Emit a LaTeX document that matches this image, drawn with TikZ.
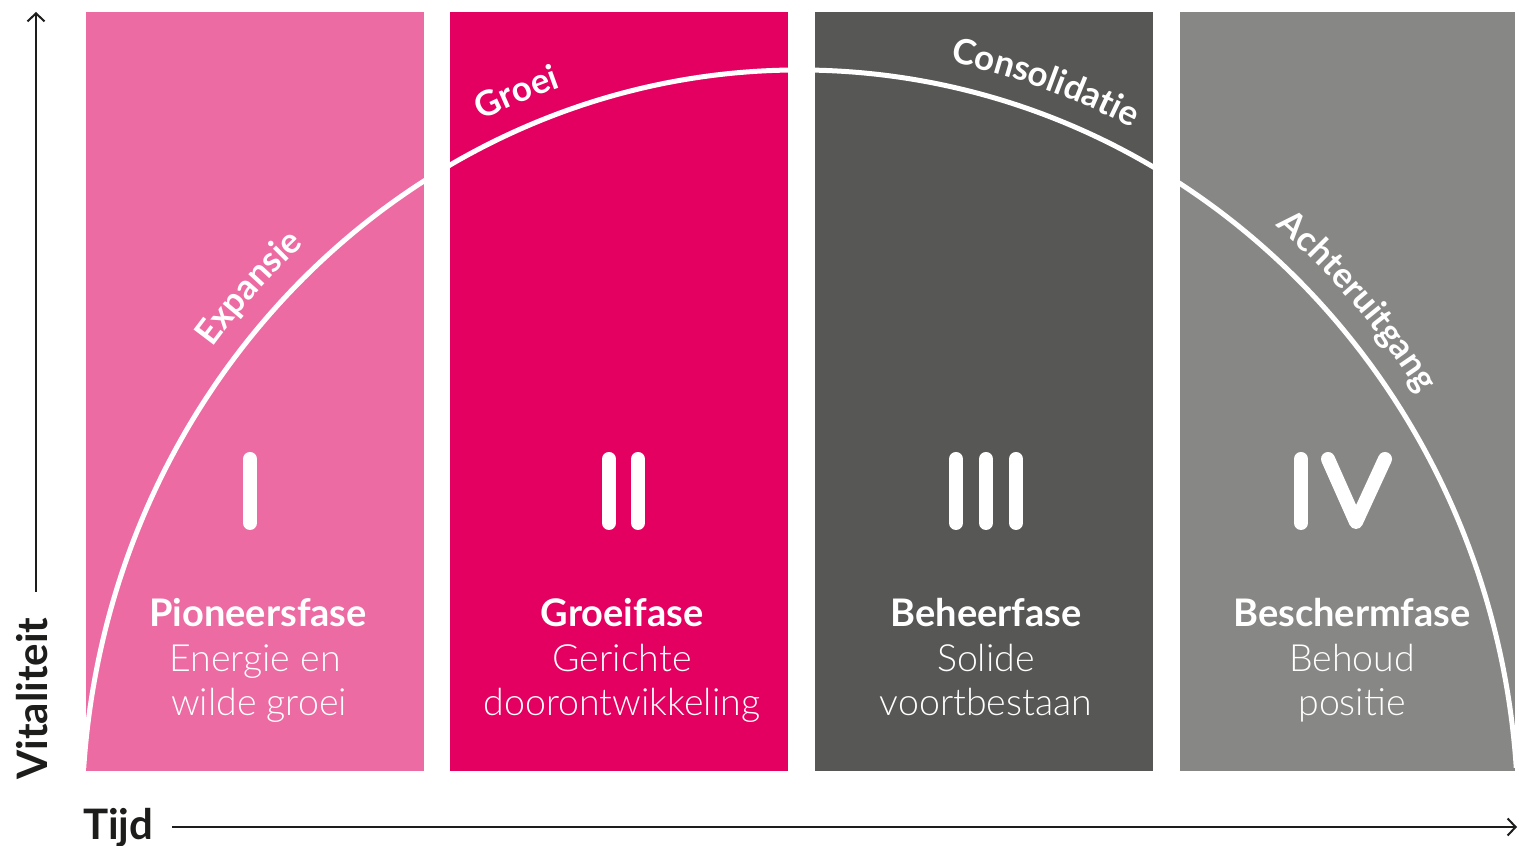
\documentclass[tikz,border=0pt]{standalone}
\usepackage{fontspec}
\setmainfont{Lato}
\newfontfamily\boldf{Lato Bold}
\newfontfamily\lightf{Lato Light}
\newfontfamily\curvef[LetterSpace=7]{Lato Bold}
\usetikzlibrary{decorations.text,arrows.meta,calc}
\definecolor{pinkA}{HTML}{EC6BA3}
\definecolor{magB}{HTML}{E30060}
\definecolor{darkC}{HTML}{575756}
\definecolor{grayD}{HTML}{878786}
\definecolor{axisc}{HTML}{1D1D1B}
\tikzset{
  head/.style={anchor=base,text=white,font=\boldf\fontsize{38}{44}\selectfont,inner sep=0pt},
  sub/.style={anchor=base,text=white,font=\lightf\fontsize{37.5}{44}\selectfont,inner sep=0pt},
  numeral/.style={draw=white,line width=14pt,line cap=round,line join=round},
  vcurve/.style={draw=white,line width=5pt},
  axisarrow/.style={draw=axisc,line width=2pt,-{Straight Barb[length=8pt,width=17pt,line width=2pt]}},
  axislabel/.style={text=axisc,font=\boldf\fontsize{42}{48}\selectfont,inner sep=0pt},
  curvelabel/.style={decorate,decoration={text along path,text align=center,
     text={|\curvef\fontsize{35}{40}\selectfont\color{white}|#1}}}
}
\begin{document}
\begin{tikzpicture}[x=1pt,y=1pt]
\useasboundingbox (0,0) rectangle (1519,846);
% panels
\fill[pinkA] (86,75) rectangle (424,834);
\fill[magB] (450,75) rectangle (788,834);
\fill[darkC] (815,75) rectangle (1153,834);
\fill[grayD] (1180,75) rectangle (1515,834);
% vitality curve
\coordinate (ec) at (800,26);
\draw[vcurve] ($(ec)+(176:718pt and 750pt)$) arc[start angle=176,end angle=4,x radius=718pt,y radius=750pt];
% curve labels
\path[curvelabel=Expansie] ($(ec)+(160:742pt and 774pt)$) arc[start angle=160,end angle=114,x radius=742pt,y radius=774pt];
\path[curvelabel=Groei] ($(ec)+(132:742pt and 774pt)$) arc[start angle=132,end angle=92,x radius=742pt,y radius=774pt];
\path[curvelabel=Consolidatie] ($(ec)+(97:742pt and 774pt)$) arc[start angle=97,end angle=45,x radius=742pt,y radius=774pt];
\path[curvelabel=Achteruitgang] ($(ec)+(70:742pt and 774pt)$) arc[start angle=70,end angle=14,x radius=742pt,y radius=774pt];
% numerals
\draw[numeral] (250,387) -- (250,323);
\draw[numeral] (609,387) -- (609,323);
\draw[numeral] (638,387) -- (638,323);
\draw[numeral] (956,387) -- (956,323);
\draw[numeral] (986,387) -- (986,323);
\draw[numeral] (1016,387) -- (1016,323);
\draw[numeral] (1301,387) -- (1301,323);
\draw[numeral] (1328,387) -- (1356,324) -- (1385,387);
% texts
\node[head] (h1) at (258,219) {Pioneersfase};
\node[sub] (s1a) at (255,174) {Energie en};
\node[sub] (s1b) at (259,130) {wilde groei};
\node[head] (h2) at (622,219) {Groeifase};
\node[sub] (s2a) at (622,174) {Gerichte};
\node[sub] (s2b) at (622,130) {doorontwikkeling};
\node[head] (h3) at (986,219) {Beheerfase};
\node[sub] (s3a) at (986,174) {Solide};
\node[sub] (s3b) at (986,130) {voortbestaan};
\node[head] (h4) at (1352,219) {Beschermfase};
\node[sub] (s4a) at (1352,174) {Behoud};
\node[sub] (s4b) at (1352,130) {positie};
% axes
\node[axislabel,anchor=base west,rotate=90] (vital) at (47,66) {Vitaliteit};
\node[axislabel,anchor=base west] (tijd) at (83,6) {Tijd};
\coordinate (vbot) at (36,254);
\coordinate (vtop) at (36,834);
\coordinate (hbeg) at (172,19);
\coordinate (hend) at (1517,19);
\draw[axisarrow] (vbot) -- (vtop);
\draw[axisarrow] (hbeg) -- (hend);
\end{tikzpicture}
\end{document}
